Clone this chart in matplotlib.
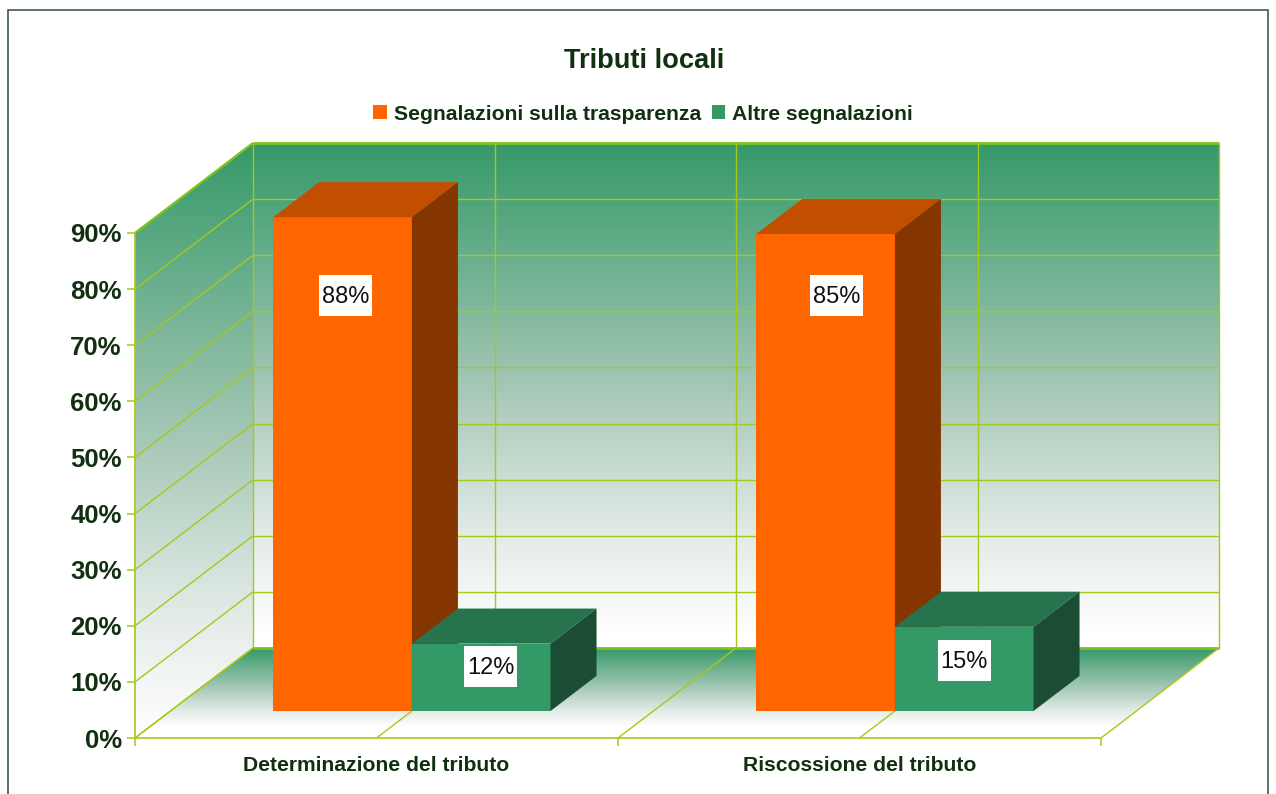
import numpy as np
import matplotlib
matplotlib.use("Agg")
import matplotlib.pyplot as plt
from matplotlib.colors import LinearSegmentedColormap
from matplotlib.patches import Polygon, Patch, Rectangle

title = "Tributi locali"
categories = ["Determinazione del tributo", "Riscossione del tributo"]
series_names = ["Segnalazioni sulla trasparenza", "Altre segnalazioni"]
trasparenza = [88, 85]
altre = [12, 15]
y_ticks = [0, 10, 20, 30, 40, 50, 60, 70, 80, 90]

# style / layout
W, H = 1276, 794
TXT = "#103010"
LINE = "#a6c81a"
WALL = "#359968"
WALL_STOPS = [(0.0, WALL), (0.5, "#a6c8b7"), (0.8, "#e4ece8"), (1.0, "#ffffff")]
DX, DY = 118 / 483, 90 / 5.61       # full depth of the box in data units
BAR_D0, BAR_D1 = 0.30, 0.69          # bar front/back as fraction of depth
BAR_W = 0.287
BOX_W, BOX_H = 53 / 483, 41 / 5.61   # label box size in data units
FACES = {0: ("#ff6600", "#c24e00", "#843500"), 1: ("#339966", "#26734d", "#1a4d33")}
LABEL_SHIFT = {(0, 0): (0.006, 74), (1, 0): (0.023, 74), (0, 1): (0.02, 8), (1, 1): (0.0, 9)}

plt.rcParams["font.family"] = ["Liberation Sans", "DejaVu Sans"]
fig = plt.figure(figsize=(W / 100, H / 100), dpi=100, facecolor="white")
ax = fig.add_axes([135 / W, 1 - 738 / H, (1101 - 135) / W, (738 - 233) / H])
ax.set_facecolor("none")


def P(x, y, d):
    return (x + d * DX, y + d * DY)


def grad_poly(pts, top, bottom, z=1):
    """Vertical gradient from wall green at y=top to white at y=bottom, clipped to a polygon."""
    xs = [p[0] for p in pts]
    cm = LinearSegmentedColormap.from_list("g", WALL_STOPS)
    im = ax.imshow(np.linspace(0, 1, 256)[:, None], cmap=cm, aspect="auto", origin="upper",
                   extent=(min(xs), max(xs), bottom, top), zorder=z, interpolation="bilinear")
    poly = Polygon(pts, closed=True, fc="none", ec="none", transform=ax.transData, clip_on=False)
    ax.add_patch(poly)
    im.set_clip_box(fig.bbox)
    im.set_clip_path(poly)
    return im


top_v = y_ticks[-1]
xmax = len(categories)
# walls and floor
grad_poly([P(0, 0, 1), P(xmax, 0, 1), P(xmax, top_v, 1), P(0, top_v, 1)], top_v + DY, DY + 2)
grad_poly([P(0, 0, 0), P(0, 0, 1), P(0, top_v, 1), P(0, top_v, 0)], top_v + DY, 0)
grad_poly([P(0, 0, 0), P(xmax, 0, 0), P(xmax, 0, 1), P(0, 0, 1)], DY, 2)

# grid
gl = dict(color=LINE, lw=1.0, zorder=2, clip_on=False, solid_capstyle="butt")
for v in y_ticks:
    a, b, c = P(0, v, 0), P(0, v, 1), P(xmax, v, 1)
    lw = 2.0 if v in (y_ticks[0], y_ticks[-1]) else 1.0
    ax.plot([a[0], b[0]], [a[1], b[1]], **gl)
    ax.plot([b[0], c[0]], [b[1], c[1]], **{**gl, "lw": lw, "color": "#7fc31c" if lw > 1.5 else LINE})
for x in np.arange(0, xmax + 0.5, 0.5):
    a, b, c = P(x, 0, 0), P(x, 0, 1), P(x, top_v, 1)
    ax.plot([a[0], b[0]], [a[1], b[1]], **gl)
    ax.plot([b[0], c[0]], [b[1], c[1]], **gl)
a, b = P(0, top_v, 0), P(0, top_v, 1)
ax.plot([a[0], b[0]], [a[1], b[1]], **{**gl, "lw": 1.6, "color": "#7fc31c"})

# bars
for i in range(len(categories)):
    for s, vals in enumerate((trasparenza, altre)):
        v = vals[i]
        x0 = i + 0.5 - BAR_W + s * BAR_W
        x1 = x0 + BAR_W
        front, top, side = FACES[s]
        z = 3 + i * 2 + s * 0.5
        fb = P(x0, 0, BAR_D0)
        ax.bar(fb[0], v, BAR_W, bottom=fb[1], align="edge", color=front, zorder=z, clip_on=False, lw=0)
        ax.add_patch(Polygon([P(x0, v, BAR_D0), P(x1, v, BAR_D0), P(x1, v, BAR_D1), P(x0, v, BAR_D1)],
                             fc=top, ec="none", zorder=z, clip_on=False))
        ax.add_patch(Polygon([P(x1, 0, BAR_D0), P(x1, 0, BAR_D1), P(x1, v, BAR_D1), P(x1, v, BAR_D0)],
                             fc=side, ec="none", zorder=z, clip_on=False))
        sx, ly = LABEL_SHIFT[(i, s)]
        lp = P((x0 + x1) / 2 + sx, ly, BAR_D0)
        ax.add_patch(Rectangle((lp[0] - BOX_W / 2, lp[1] - BOX_H / 2), BOX_W, BOX_H, fc="white",
                               ec="none", zorder=19, clip_on=False))
        ax.text(lp[0], lp[1] - 0.25, f"{v}%", ha="center", va="center", fontsize=17, color="#111",
                zorder=20, clip_on=False)

# axes
ax.set_xlim(0, xmax)
ax.set_ylim(0, top_v)
for n in ("top", "right"):
    ax.spines[n].set_visible(False)
for n in ("left", "bottom"):
    ax.spines[n].set_color(LINE)
    ax.spines[n].set_linewidth(1.2)
ax.set_yticks(y_ticks, [f"{v}%" for v in y_ticks])
ax.tick_params(axis="y", length=5.5, width=1.1, color=LINE, pad=4, labelsize=18.5, labelcolor=TXT)
for t in ax.get_yticklabels():
    t.set_fontweight("bold")
ax.set_xticks(np.arange(len(categories)) + 0.5, categories)
ax.tick_params(axis="x", which="major", length=0, pad=13, labelsize=15.2, labelcolor=TXT)
for t in ax.get_xticklabels():
    t.set_fontweight("bold")
ax.set_xticks(np.arange(xmax + 1), minor=True)
ax.tick_params(axis="x", which="minor", length=5.5, width=1.1, color=LINE)

# title, legend, frame
fig.text(644 / W, 1 - 61 / H, title, ha="center", va="center", fontsize=19.6, fontweight="bold", color=TXT)
handles = [Patch(fc=FACES[0][0], ec="none"), Patch(fc=FACES[1][0], ec="none")]
fig.legend(handles, series_names, ncols=2, loc="center", bbox_to_anchor=(643 / W, 1 - 114 / H),
           frameon=False, labelcolor=TXT, handlelength=0.62, handleheight=0.62,
           handletextpad=0.33, columnspacing=0.52, prop={"weight": "bold", "size": 15.2})
fig.add_artist(Rectangle((8 / W, -0.02), (1268 - 8) / W, 1 - 10 / H + 0.02, transform=fig.transFigure,
                         fc="none", ec="#3f5a50", lw=1.2))
fig.savefig("out.png", dpi=100)
